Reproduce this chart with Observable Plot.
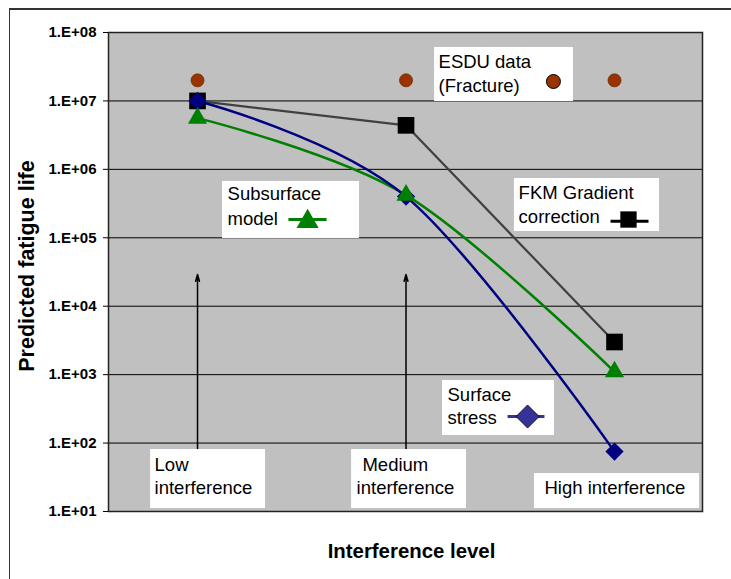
<!DOCTYPE html>
<html><head><meta charset="utf-8">
<script src="https://cdn.jsdelivr.net/npm/d3@7"></script>
<script src="https://cdn.jsdelivr.net/npm/@observablehq/plot@0.6"></script>
<style>
html,body{margin:0;padding:0;background:#fff;overflow:hidden;}
#wrap{position:relative;width:731px;height:579px;}
#border{position:absolute;left:9px;top:7.5px;width:800px;height:700px;border-top:2px solid #333;border-left:1.5px solid #333;pointer-events:none;}
</style></head><body><div id="wrap"><div id="chart"></div><div id="border"></div></div>
<script>
// ---- data ----
const categories = ["Low interference", "Medium interference", "High interference"];
const categoryIndex = [1, 2, 3];
const esduValues = [2e7, 2e7, 2e7];
const fkmValues = [1e7, 4.4e6, 3.0e3];
const subsurfaceValues = [5.6e6, 4.2e5, 1.1e3];
const surfaceValues = [1e7, 4.0e5, 75];
const yTickValues = [1e1, 1e2, 1e3, 1e4, 1e5, 1e6, 1e7, 1e8];

// annotations (x in category units, y as log10 exponent)
const noteBoxes = [
  {x1: 2.137, x2: 2.803, y1: 6.992, y2: 7.781},
  {x1: 2.520, x2: 3.216, y1: 5.092, y2: 5.866},
  {x1: 1.120, x2: 1.777, y1: 4.990, y2: 5.823},
  {x1: 2.175, x2: 2.712, y1: 2.111, y2: 2.914},
  {x1: 0.775, x2: 1.326, y1: 1.044, y2: 1.906},
  {x1: 1.739, x2: 2.290, y1: 1.044, y2: 1.906},
  {x1: 2.616, x2: 3.408, y1: 1.044, y2: 1.555}
];
const noteLines = [
  {x: 2.156, y: 7.474, text: "ESDU data"},
  {x: 2.156, y: 7.131, text: "(Fracture)"},
  {x: 2.540, y: 5.574, text: "FKM Gradient"},
  {x: 2.540, y: 5.223, text: "correction"},
  {x: 1.144, y: 5.545, text: "Subsurface"},
  {x: 1.144, y: 5.180, text: "model"},
  {x: 2.199, y: 2.622, text: "Surface"},
  {x: 2.199, y: 2.286, text: "stress"},
  {x: 0.794, y: 1.599, text: "Low"},
  {x: 0.794, y: 1.263, text: "interference"},
  {x: 1.791, y: 1.599, text: "Medium"},
  {x: 1.763, y: 1.263, text: "interference"},
  {x: 2.664, y: 1.263, text: "High interference"}
];
const arrowNotes = [
  {x: 1, y1: 1.906, y2: 4.464},
  {x: 2, y1: 1.906, y2: 4.464}
];
const legendLines = [
  {x1: 2.981, x2: 3.163, y: 5.242, color: "black"},
  {x1: 1.436, x2: 1.619, y: 5.267, color: "#008000"},
  {x1: 2.487, x2: 2.664, y: 2.388, color: "#333399"}
];

// ---- tables ----
const toRows = vals => categoryIndex.map((x, i) => ({x, y: vals[i], cat: categories[i]}));
const esdu = toRows(esduValues);
const fkm = toRows(fkmValues);
const sub = toRows(subsurfaceValues);
const surf = toRows(surfaceValues);
const P = v => 10 ** v;

const font = "'Liberation Sans', Arial, sans-serif";
const chart = Plot.plot({
  width: 731, height: 579,
  marginLeft: 108, marginRight: 29, marginTop: 32, marginBottom: 68,
  style: {background: "white", fontFamily: font, color: "black"},
  x: {domain: [0.573, 3.422], axis: null},
  y: {type: "log", domain: [10, 1e8]},
  marks: [
    Plot.frame({fill: "#C0C0C0", stroke: null}),
    Plot.gridY(yTickValues, {stroke: "black", strokeOpacity: 1, strokeWidth: 1}),
    Plot.arrow(arrowNotes, {x1: "x", x2: "x", y1: d => P(d.y1), y2: d => P(d.y2), stroke: "black", strokeWidth: 1.5, headLength: 7, headAngle: 32, inset: 0}),
    Plot.line(fkm, {x: "x", y: "y", stroke: "#404040", strokeWidth: 2.2}),
    Plot.line(sub, {x: "x", y: "y", stroke: "#008000", strokeWidth: 2.5, curve: "cardinal", tension: 0}),
    Plot.line(surf, {x: "x", y: "y", stroke: "#000080", strokeWidth: 2.5, curve: "cardinal", tension: 0}),
    Plot.dot(esdu, {x: "x", y: "y", r: 6.5, fill: "#993300", stroke: "#7a2a00", strokeWidth: 0.8}),
    Plot.dot(fkm, {x: "x", y: "y", symbol: "square", r: 9.4, fill: "black", stroke: null}),
    Plot.dot(surf, {x: "x", y: "y", symbol: "diamond2", r: 8.2, fill: "#000080", stroke: null}),
    Plot.dot(sub, {x: "x", y: "y", symbol: "triangle", r: 7.1, fill: "#008000", stroke: null}),
    Plot.rect(noteBoxes, {x1: "x1", x2: "x2", y1: d => P(d.y1), y2: d => P(d.y2), fill: "white"}),
    Plot.text(noteLines, {x: "x", y: d => P(d.y), text: "text", textAnchor: "start", lineAnchor: "bottom", fontSize: 18.5, fill: "black"}),
    Plot.link(legendLines, {x1: "x1", x2: "x2", y1: d => P(d.y), y2: d => P(d.y), stroke: "color", strokeWidth: 3}),
    Plot.dot([{x: 2.707, y: 7.284}], {x: "x", y: d => P(d.y), r: 7, fill: "#993300", stroke: "black", strokeWidth: 1}),
    Plot.dot([{x: 3.067, y: 5.267}], {x: "x", y: d => P(d.y), symbol: "square", r: 9.2, fill: "black"}),
    Plot.dot([{x: 1.528, y: 5.238}], {x: "x", y: d => P(d.y), symbol: "triangle", r: 8.2, fill: "#008000"}),
    Plot.dot([{x: 2.583, y: 2.388}], {x: "x", y: d => P(d.y), symbol: "diamond2", r: 10.4, fill: "#333399", stroke: "black", strokeWidth: 0.8}),
    Plot.frame({stroke: "#222", strokeWidth: 1.5}),
    Plot.axisY(yTickValues, {
      tickFormat: d => "1.E+" + String(Math.round(Math.log10(d))).padStart(2, "0"),
      fontSize: 15, fontWeight: "bold", tickSize: 5, tickPadding: 7, label: null, stroke: "black"
    }),
    Plot.text(["Predicted fatigue life"], {frameAnchor: "left", textAnchor: "middle", rotate: -90, dx: -81, dy: -6, fontSize: 21.5, fontWeight: "bold", fill: "black"}),
    Plot.text(["Interference level"], {frameAnchor: "bottom", dx: 6, dy: 46, fontSize: 20.4, fontWeight: "bold", fill: "black"})
  ]
});
document.getElementById("chart").appendChild(chart);
</script></body></html>
